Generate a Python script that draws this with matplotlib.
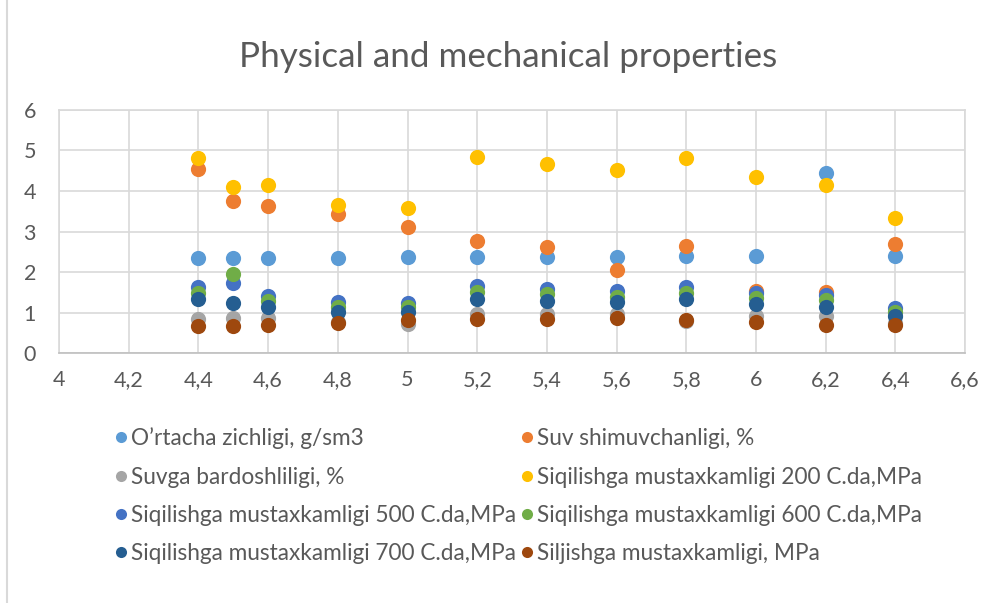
import matplotlib
matplotlib.use("Agg")
from matplotlib import pyplot as plt
from matplotlib.ticker import FuncFormatter
from matplotlib.lines import Line2D

plt.rcParams['font.family'] = ['Lato', 'DejaVu Sans']

# sample x positions
x = [4.4, 4.5, 4.6, 4.8, 5.0, 5.2, 5.4, 5.6, 5.8, 6.0, 6.2, 6.4]

zichlik = [2.35, 2.35, 2.35, 2.36, 2.38, 2.38, 2.38, 2.38, 2.40, 2.40, 4.43, 2.40]
shimuvchanlik = [4.53, 3.75, 3.63, 3.42, 3.11, 2.77, 2.61, 2.06, 2.65, 1.54, 1.52, 2.69]
bardoshlilik = [0.84, 0.88, 0.88, 0.78, 0.72, 0.97, 0.97, 0.97, 0.80, 0.92, 0.93, 0.75]
siq_200 = [4.82, 4.10, 4.15, 3.65, 3.57, 4.83, 4.67, 4.52, 4.81, 4.35, 4.14, 3.33]
siq_500 = [1.64, 1.74, 1.41, 1.26, 1.24, 1.65, 1.59, 1.54, 1.64, 1.48, 1.43, 1.11]
siq_600 = [1.49, 1.95, 1.29, 1.15, 1.13, 1.51, 1.46, 1.39, 1.49, 1.36, 1.31, 1.03]
siq_700 = [1.33, 1.24, 1.15, 1.02, 1.02, 1.35, 1.29, 1.26, 1.34, 1.21, 1.15, 0.93]
siljish = [0.68, 0.68, 0.69, 0.75, 0.82, 0.85, 0.85, 0.86, 0.81, 0.78, 0.70, 0.69]

names = ["O\u2019rtacha zichligi, g/sm3", "Suv shimuvchanligi, %",
         "Suvga bardoshliligi, %", "Siqilishga mustaxkamligi 200 C.da,MPa",
         "Siqilishga mustaxkamligi 500 C.da,MPa", "Siqilishga mustaxkamligi 600 C.da,MPa",
         "Siqilishga mustaxkamligi 700 C.da,MPa", "Siljishga mustaxkamligi, MPa"]
series = [zichlik, shimuvchanlik, bardoshlilik, siq_200, siq_500, siq_600, siq_700, siljish]
colors = ["#5B9BD5", "#ED7D31", "#A5A5A5", "#FFC000",
          "#4472C4", "#70AD47", "#255E91", "#9E480E"]

fig = plt.figure(figsize=(9.98, 6.03), dpi=100)
ax = fig.add_axes([0.0591, 0.414, 0.908, 0.404])

for vals, c, n in zip(series, colors, names):
    ax.scatter(x, vals, s=120, color=c, label=n, linewidths=0, zorder=3)

ax.set_xlim(4, 6.6)
ax.set_ylim(0, 6)
ax.set_xticks([4 + 0.2 * i for i in range(14)])
ax.set_yticks(range(7))
ax.xaxis.set_major_formatter(FuncFormatter(lambda v, p: f"{v:g}".replace(".", ",")))
ax.grid(True, color="#D9D9D9", linewidth=1.2, zorder=0)
ax.set_axisbelow(True)
for side in ["top", "right", "left"]:
    ax.spines[side].set_color("#D9D9D9")
    ax.spines[side].set_linewidth(1.2)
ax.spines["bottom"].set_color("#BFBFBF")
ax.spines["bottom"].set_linewidth(1.2)
ax.tick_params(length=0, labelsize=15.5, labelcolor="#595959")
ax.tick_params(axis="x", pad=12)
ax.tick_params(axis="y", pad=16.5)

fig.text(0.509, 0.905, "Physical and mechanical properties", ha="center", va="center",
         fontsize=25.2, color="#595959")

# legend in excel row order
order = [0, 2, 4, 6, 1, 3, 5, 7]
handles = [Line2D([], [], marker="o", linestyle="", markersize=8, markeredgewidth=0,
                  color=colors[i]) for i in order]
fig.legend(handles, [names[i] for i in order], ncol=2, loc="upper left",
           bbox_to_anchor=(0.105, 0.306), frameon=False, fontsize=16.3,
           labelcolor="#595959", handletextpad=0.15, handlelength=0.6,
           columnspacing=0.2, labelspacing=0.76, borderaxespad=0)

# left edge of the chart frame
fig.add_artist(Line2D([0.007, 0.007], [0, 1], color="#D9D9D9", linewidth=1.5))

fig.savefig("out.png", dpi=100)
